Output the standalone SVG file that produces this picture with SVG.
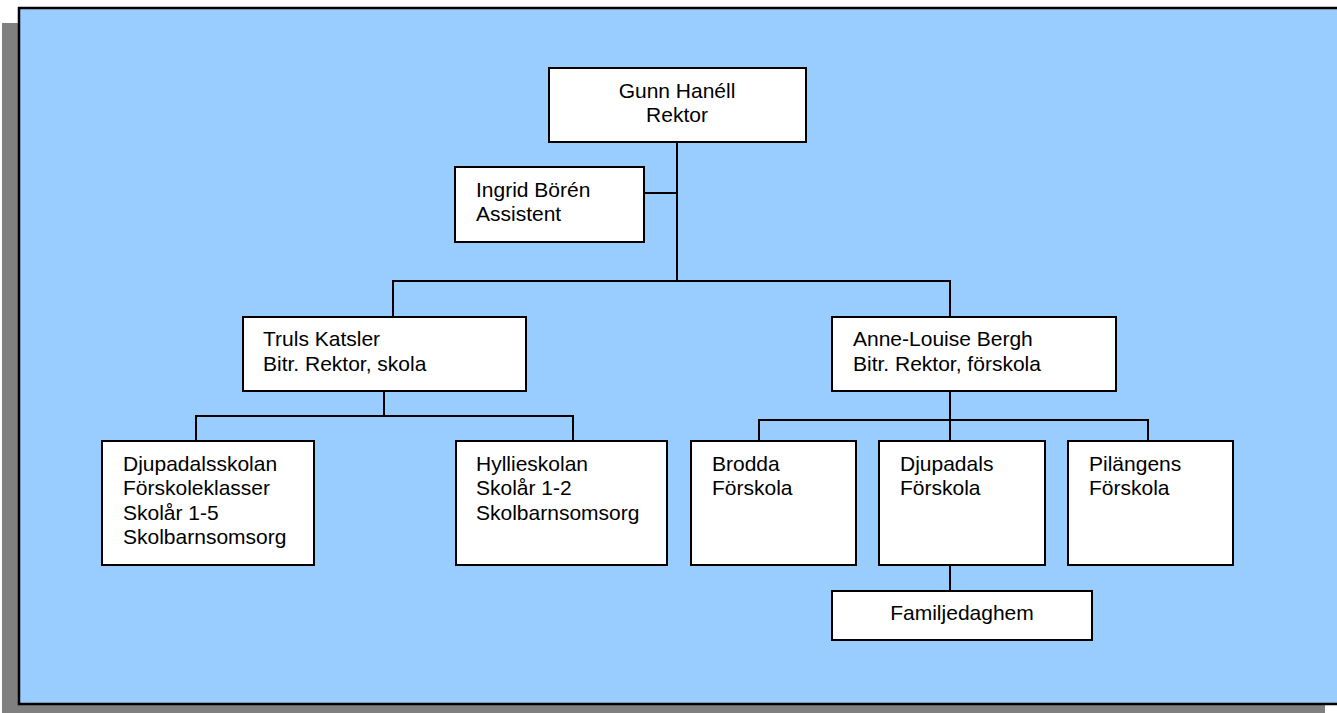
<svg xmlns="http://www.w3.org/2000/svg" width="1337" height="713" viewBox="0 0 1337 713">
<style>
.box{fill:#ffffff;stroke:#000000;stroke-width:2}
.ln{fill:none;stroke:#000000;stroke-width:2}
text{font-family:"Liberation Sans",Arial,sans-serif;font-size:21px;fill:#000000}
.c{text-anchor:middle}
</style>
<rect x="2" y="23" width="1323" height="700" fill="#808080"/>
<rect x="19" y="8" width="1330" height="696" fill="#99ccff" stroke="#000000" stroke-width="2.5"/>
<g id="connectors">
<path class="ln" d="M677,142 V281"/>
<path class="ln" d="M644,193 H677"/>
<path class="ln" d="M393,316 V281 H950 V316"/>
<path class="ln" d="M384,391 V416"/>
<path class="ln" d="M196,441 V416 H573 V441"/>
<path class="ln" d="M950,391 V441"/>
<path class="ln" d="M759,441 V420 H1148 V441"/>
<path class="ln" d="M950,566 V591"/>
</g>
<g id="gunn">
<rect class="box" x="549" y="68" width="257" height="74"/>
<text class="c" x="677" y="98">Gunn Hanéll</text>
<text class="c" x="677" y="122">Rektor</text>
</g>
<g id="ingrid">
<rect class="box" x="455" y="167" width="189" height="75"/>
<text x="476" y="197">Ingrid Börén</text>
<text x="476" y="221">Assistent</text>
</g>
<g id="truls">
<rect class="box" x="243" y="317" width="283" height="74"/>
<text x="263" y="346">Truls Katsler</text>
<text x="263" y="371">Bitr. Rektor, skola</text>
</g>
<g id="anne">
<rect class="box" x="832" y="317" width="284" height="74"/>
<text x="853" y="346">Anne-Louise Bergh</text>
<text x="853" y="371">Bitr. Rektor, förskola</text>
</g>
<g id="djupadalsskolan">
<rect class="box" x="102" y="441" width="212" height="124"/>
<text x="123" y="471">Djupadalsskolan</text>
<text x="123" y="495">Förskoleklasser</text>
<text x="123" y="520">Skolår 1-5</text>
<text x="123" y="544">Skolbarnsomsorg</text>
</g>
<g id="hyllieskolan">
<rect class="box" x="456" y="441" width="211" height="124"/>
<text x="476" y="471">Hyllieskolan</text>
<text x="476" y="495">Skolår 1-2</text>
<text x="476" y="520">Skolbarnsomsorg</text>
</g>
<g id="brodda">
<rect class="box" x="691" y="441" width="165" height="124"/>
<text x="712" y="471">Brodda</text>
<text x="712" y="495">Förskola</text>
</g>
<g id="djupadals">
<rect class="box" x="879" y="441" width="166" height="124"/>
<text x="900" y="471">Djupadals</text>
<text x="900" y="495">Förskola</text>
</g>
<g id="pilangens">
<rect class="box" x="1068" y="441" width="165" height="124"/>
<text x="1089" y="471">Pilängens</text>
<text x="1089" y="495">Förskola</text>
</g>
<g id="familjedaghem">
<rect class="box" x="832" y="591" width="260" height="49"/>
<text class="c" x="962" y="620">Familjedaghem</text>
</g>
</svg>
